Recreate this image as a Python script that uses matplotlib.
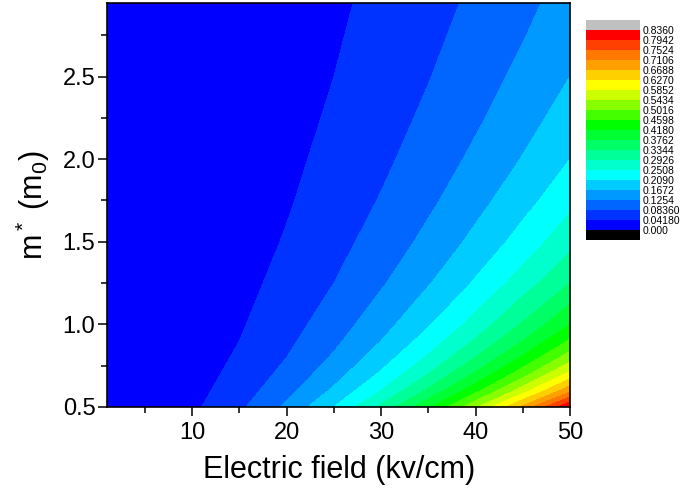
import numpy as np
import matplotlib
matplotlib.use('Agg')
import matplotlib.pyplot as plt
from matplotlib.colors import ListedColormap, BoundaryNorm

plt.rcParams['font.family'] = ['Liberation Sans', 'DejaVu Sans']
plt.rcParams['mathtext.fontset'] = 'custom'
plt.rcParams['mathtext.rm'] = 'Liberation Sans'
plt.rcParams['mathtext.it'] = 'Liberation Sans'

# grid
field = [1, 5, 10, 15, 20, 25, 30, 35, 40, 45, 50]                                  # kv/cm
mass = [0.5, 0.6, 0.7, 0.8, 0.9, 1.0, 1.25, 1.5, 1.75, 2.0, 2.25, 2.5, 2.75, 2.95]  # m0

# one row per mass value, one column per field value
values = [
    [0.0003, 0.0084, 0.0334, 0.0752, 0.1338, 0.2090, 0.3010, 0.4096, 0.5350, 0.6772, 0.8360],
    [0.0003, 0.0070, 0.0279, 0.0627, 0.1115, 0.1742, 0.2508, 0.3414, 0.4459, 0.5643, 0.6967],
    [0.0002, 0.0060, 0.0239, 0.0537, 0.0955, 0.1493, 0.2150, 0.2926, 0.3822, 0.4837, 0.5971],
    [0.0002, 0.0052, 0.0209, 0.0470, 0.0836, 0.1306, 0.1881, 0.2560, 0.3344, 0.4232, 0.5225],
    [0.0002, 0.0046, 0.0186, 0.0418, 0.0743, 0.1161, 0.1672, 0.2276, 0.2972, 0.3762, 0.4644],
    [0.0002, 0.0042, 0.0167, 0.0376, 0.0669, 0.1045, 0.1505, 0.2048, 0.2675, 0.3386, 0.4180],
    [0.0001, 0.0033, 0.0134, 0.0301, 0.0535, 0.0836, 0.1204, 0.1639, 0.2140, 0.2709, 0.3344],
    [0.0001, 0.0028, 0.0111, 0.0251, 0.0446, 0.0697, 0.1003, 0.1365, 0.1783, 0.2257, 0.2787],
    [0.0001, 0.0024, 0.0096, 0.0215, 0.0382, 0.0597, 0.0860, 0.1170, 0.1529, 0.1935, 0.2389],
    [0.0001, 0.0021, 0.0084, 0.0188, 0.0334, 0.0523, 0.0752, 0.1024, 0.1338, 0.1693, 0.2090],
    [0.0001, 0.0019, 0.0074, 0.0167, 0.0297, 0.0464, 0.0669, 0.0910, 0.1189, 0.1505, 0.1858],
    [0.0001, 0.0017, 0.0067, 0.0150, 0.0268, 0.0418, 0.0602, 0.0819, 0.1070, 0.1354, 0.1672],
    [0.0001, 0.0015, 0.0061, 0.0137, 0.0243, 0.0380, 0.0547, 0.0745, 0.0973, 0.1231, 0.1520],
    [0.0001, 0.0014, 0.0057, 0.0128, 0.0227, 0.0354, 0.0510, 0.0694, 0.0907, 0.1148, 0.1417],
]

levels = [0.0, 0.0418, 0.0836, 0.1254, 0.1672, 0.2090, 0.2508, 0.2926, 0.3344, 0.3762,
          0.4180, 0.4598, 0.5016, 0.5434, 0.5852, 0.6270, 0.6688, 0.7106, 0.7524, 0.7942, 0.8360]

band_colors = ['#0000FF', '#0033FF', '#0066FF', '#0099FF', '#00CCFF',
               '#00FFFF', '#00FFCC', '#00FF99', '#00FF66', '#00FF33',
               '#00FF00', '#44FF00', '#88FF00', '#CCFF00', '#FFFF00',
               '#FFD000', '#FFA000', '#FF7800', '#FF4000', '#FF0000']

cmap = ListedColormap(band_colors)
cmap.set_under('#000000')
cmap.set_over('#C0C0C0')
norm = BoundaryNorm(levels, cmap.N)

fig = plt.figure(figsize=(6.85, 4.99), dpi=100)
ax = fig.add_axes([0.1566, 0.1844, 0.6755, 0.8096])

X, Y = np.meshgrid(field, mass)
Z = np.array(values)
cs = ax.contourf(X, Y, Z, levels=levels, cmap=cmap, norm=norm, extend='both')

ax.set_xlim(1, 50)
ax.set_ylim(0.5, 2.945)
ax.set_xticks([10, 20, 30, 40, 50])
ax.set_xticks([5, 15, 25, 35, 45], minor=True)
ax.set_yticks([0.5, 1.0, 1.5, 2.0, 2.5])
ax.set_yticks([0.75, 1.25, 1.75, 2.25, 2.75], minor=True)
ax.tick_params(which='major', direction='out', length=6.5, width=1.1, labelsize=17, pad=4)
ax.tick_params(which='minor', direction='out', length=4, width=1.1)
ax.tick_params(axis='y', which='major', pad=2)
for s in ax.spines.values():
    s.set_linewidth(1.2)

ax.set_xlabel('Electric field (kv/cm)', fontsize=22, labelpad=8)
ax.set_ylabel(r'm$^*$ (m$_0$)', fontsize=22, labelpad=8)

cax = fig.add_axes([0.8555, 0.519, 0.0788, 0.4409])
cb = fig.colorbar(cs, cax=cax, ticks=levels, extendrect=True, extendfrac=0.05)
cb.ax.set_yticklabels(['%#.4g' % v for v in levels])
cb.ax.tick_params(length=0, labelsize=7.5, pad=2)
cb.outline.set_visible(False)

plt.savefig('out.png', dpi=100)
plt.close()
